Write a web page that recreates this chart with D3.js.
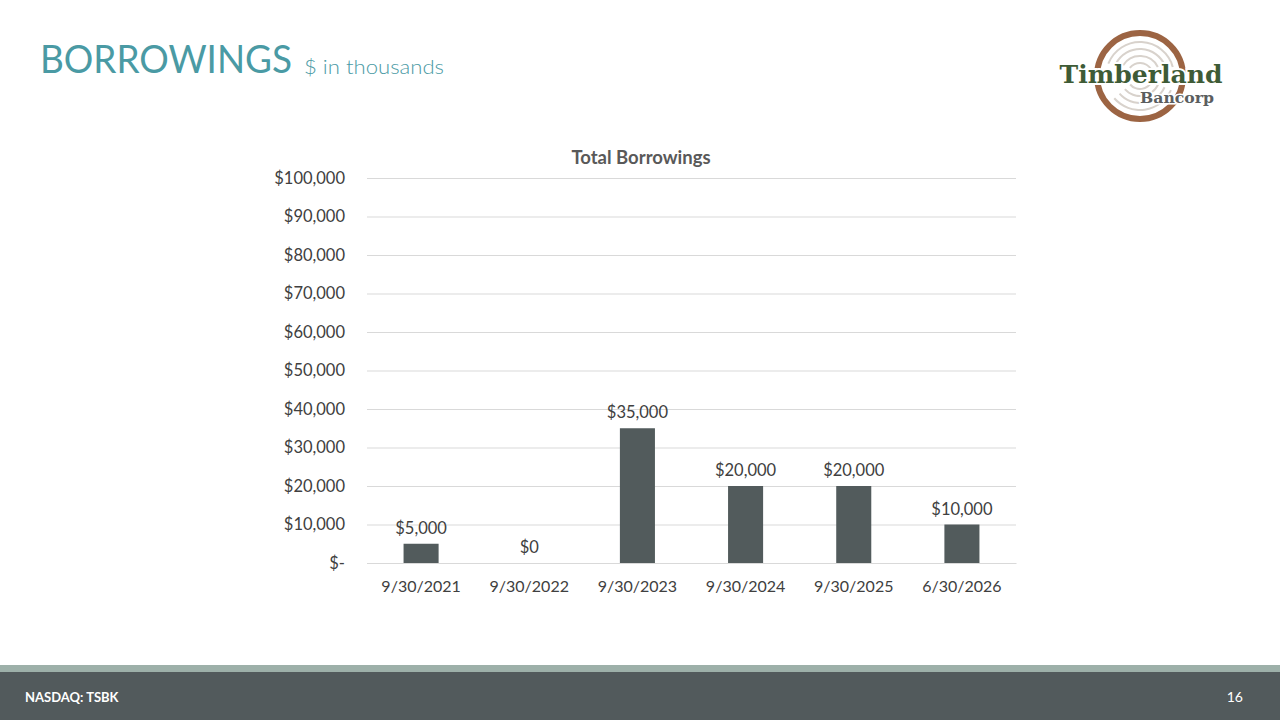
<!DOCTYPE html>
<html><head><meta charset="utf-8">
<script src="https://cdn.jsdelivr.net/npm/d3@7"></script>
<style>html,body{margin:0;padding:0;background:#fff;}svg{display:block;}</style>
</head><body>
<svg id="c" width="1280" height="720"></svg>
<script>
const categories = ["9/30/2021","9/30/2022","9/30/2023","9/30/2024","9/30/2025","6/30/2026"];
const borrowings = [5000, 0, 35000, 20000, 20000, 10000];
const yTicks = [0,10000,20000,30000,40000,50000,60000,70000,80000,90000,100000];

const svg = d3.select("#c");
const font = "Lato, 'Open Sans', sans-serif";

// Title
svg.append("text").attr("x",40).attr("y",73).attr("fill","#4a9aa4")
  .attr("font-family",font).attr("font-size",38)
  .attr("textLength",252).attr("lengthAdjust","spacingAndGlyphs").text("BORROWINGS");
svg.append("text").attr("x",304).attr("y",74).attr("fill","#4a9aa4")
  .attr("font-family",font).attr("font-size",20).attr("font-weight",300)
  .attr("textLength",140).attr("lengthAdjust","spacingAndGlyphs").text("$ in thousands");

// Logo
const logo = svg.append("g");
const cx=1140, cy=76;
logo.append("circle").attr("cx",cx).attr("cy",cy).attr("r",43).attr("fill","none")
  .attr("stroke","#9c6443").attr("stroke-width",6);
[34,27,20,13].forEach((r,i)=>{
  const arc = d3.arc().innerRadius(r-1).outerRadius(r+1).startAngle(-1.2+i*0.1).endAngle(1.3-i*0.1);
  logo.append("path").attr("d",arc()).attr("transform",`translate(${cx},${cy})`).attr("fill","#d8d2cc");
  const arc2 = d3.arc().innerRadius(r-1).outerRadius(r+1).startAngle(2.0).endAngle(4.0);
  logo.append("path").attr("d",arc2()).attr("transform",`translate(${cx},${cy})`).attr("fill","#d8d2cc");
});
logo.append("text").attr("x",1141).attr("y",83).attr("text-anchor","middle")
  .attr("font-family","'DejaVu Serif', 'Liberation Serif', serif").attr("font-weight","bold")
  .attr("font-size",25).attr("fill","#3e5b36").attr("stroke","#fff").attr("stroke-width",4)
  .attr("paint-order","stroke").attr("textLength",163).attr("lengthAdjust","spacingAndGlyphs").text("Timberland");
logo.append("text").attr("x",1140).attr("y",103)
  .attr("font-family","'DejaVu Serif', 'Liberation Serif', serif").attr("font-weight","bold")
  .attr("font-size",14).attr("fill","#5b5e5f").attr("stroke","#fff").attr("stroke-width",3)
  .attr("paint-order","stroke").attr("textLength",74).attr("lengthAdjust","spacingAndGlyphs").text("Bancorp");

// Chart
const x = d3.scaleBand().domain(categories).range([367,1016]).paddingInner(0.676).paddingOuter(0.338);
const y = d3.scaleLinear().domain([0,100000]).range([563,178]);

svg.append("text").attr("x",641).attr("y",164).attr("text-anchor","middle")
  .attr("font-family",font).attr("font-weight","bold").attr("font-size",18.5).attr("fill","#595959")
  .text("Total Borrowings");

const fmt = d3.format(",");
const yAxis = svg.append("g").attr("transform","translate(367,0)")
  .call(d3.axisLeft(y).tickValues(yTicks).tickSize(-649).tickPadding(22)
    .tickFormat(d => d===0 ? "$-" : "$"+fmt(d)));
yAxis.select(".domain").remove();
yAxis.selectAll(".tick line").attr("stroke","#d9d9d9").attr("stroke-width",1);
yAxis.selectAll(".tick text").attr("font-family",font).attr("font-size",16.5).attr("fill","#404040");

const xAxis = svg.append("g").attr("transform","translate(0,563)")
  .call(d3.axisBottom(x).tickSize(0).tickPadding(18));
xAxis.select(".domain").attr("stroke","#d9d9d9");
xAxis.selectAll(".tick text").attr("font-family",font).attr("font-size",16).attr("fill","#404040");

svg.append("g").selectAll("rect").data(categories).join("rect")
  .attr("x",d=>x(d)).attr("width",x.bandwidth())
  .attr("y",(d,i)=>y(borrowings[i])).attr("height",(d,i)=>y(0)-y(borrowings[i]))
  .attr("fill","#525b5c");

svg.append("g").selectAll("text").data(categories).join("text")
  .attr("x",d=>x(d)+x.bandwidth()/2).attr("y",(d,i)=>y(borrowings[i])-10)
  .attr("text-anchor","middle").attr("font-family",font).attr("font-size",16.5).attr("fill","#404040")
  .text((d,i)=>"$"+fmt(borrowings[i]));

// Footer
svg.append("rect").attr("x",0).attr("y",665).attr("width",1280).attr("height",8).attr("fill","#9db0a9");
svg.append("rect").attr("x",0).attr("y",672).attr("width",1280).attr("height",48).attr("fill","#525a5c");
svg.append("text").attr("x",25).attr("y",702).attr("font-family",font).attr("font-weight","bold")
  .attr("font-size",13).attr("fill","#fff").text("NASDAQ: TSBK");
svg.append("text").attr("x",1243).attr("y",702).attr("text-anchor","end").attr("font-family",font)
  .attr("font-size",14).attr("fill","#fff").text("16");
</script>
</body></html>
